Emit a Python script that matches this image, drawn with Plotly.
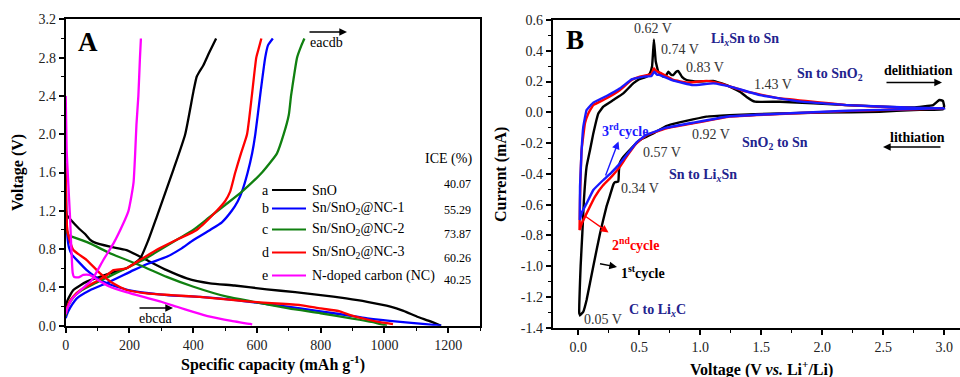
import plotly.graph_objects as go

W, H = 960, 377
SERIF = "'Liberation Serif', 'Times New Roman', Times, 'DejaVu Serif', serif"

# ---------------- Panel A: galvanostatic charge/discharge (1st cycle) ----------------
# a: SnO
a_dis_cap = [0, 3, 20, 40, 60, 76, 90, 139, 191, 254, 317, 380, 453, 530, 631, 720, 800, 880, 946, 1019, 1060, 1103, 1140, 1178]
a_dis_v = [1.22, 1.16, 1.09, 1.02, 0.96, 0.90, 0.87, 0.825, 0.79, 0.686, 0.58, 0.495, 0.443, 0.42, 0.38, 0.35, 0.32, 0.285, 0.25, 0.20, 0.155, 0.094, 0.05, 0.0]
a_chg_cap = [0, 5, 24, 66, 139, 191, 233, 260, 286, 338, 375, 401, 411, 419, 432, 450, 472]
a_chg_v = [0.20, 0.26, 0.373, 0.46, 0.547, 0.60, 0.70, 0.90, 1.14, 1.63, 2.0, 2.45, 2.6, 2.65, 2.72, 2.85, 3.0]

# b: Sn/SnO2@NC-1
b_dis_cap = [0, 2, 5, 10, 20, 35, 66, 108, 160, 223, 317, 422, 527, 631, 736, 841, 946, 1050, 1120, 1178]
b_dis_v = [1.55, 1.2, 0.95, 0.82, 0.74, 0.686, 0.58, 0.477, 0.407, 0.355, 0.32, 0.30, 0.27, 0.226, 0.18, 0.13, 0.077, 0.04, 0.02, 0.0]
b_chg_cap = [0, 3, 8, 20, 35, 76, 139, 213, 260, 317, 360, 401, 453, 490, 521, 540, 553, 571, 585, 595, 610, 626, 635, 650]
b_chg_v = [0.08, 0.11, 0.15, 0.22, 0.285, 0.37, 0.46, 0.58, 0.65, 0.72, 0.80, 0.895, 1.0, 1.08, 1.2, 1.3, 1.4, 1.6, 1.8, 2.0, 2.4, 2.8, 2.93, 3.0]

# c: Sn/SnO2@NC-2
c_dis_cap = [0, 3, 10, 19, 76, 139, 244, 317, 401, 506, 589, 700, 800, 900, 960, 1008]
c_dis_v = [1.25, 1.0, 0.94, 0.93, 0.86, 0.756, 0.616, 0.51, 0.407, 0.303, 0.25, 0.18, 0.13, 0.075, 0.04, 0.0]
c_chg_cap = [0, 3, 10, 25, 50, 90, 140, 190, 250, 300, 350, 400, 450, 500, 553, 616, 663, 684, 700, 707, 716, 726, 740, 749]
c_chg_v = [0.10, 0.15, 0.22, 0.30, 0.37, 0.44, 0.52, 0.60, 0.70, 0.80, 0.90, 1.0, 1.13, 1.26, 1.4, 1.6, 1.8, 2.0, 2.2, 2.4, 2.6, 2.8, 2.93, 3.0]

# d: Sn/SnO2@NC-3
d_dis_cap = [0, 2, 5, 10, 24, 66, 108, 150, 191, 254, 330, 420, 520, 620, 736, 800, 860, 893, 940, 990, 1027]
d_dis_v = [1.7, 1.2, 1.0, 0.92, 0.79, 0.686, 0.547, 0.44, 0.373, 0.338, 0.32, 0.30, 0.27, 0.24, 0.216, 0.18, 0.15, 0.11, 0.07, 0.035, 0.017]
d_chg_cap = [0, 3, 10, 25, 50, 90, 130, 150, 175, 191, 230, 290, 350, 411, 474, 500, 516, 532, 550, 569, 584, 598, 606, 614]
d_chg_v = [0.12, 0.17, 0.24, 0.31, 0.38, 0.45, 0.53, 0.58, 0.59, 0.60, 0.68, 0.80, 0.90, 1.0, 1.2, 1.3, 1.4, 1.6, 1.8, 2.0, 2.4, 2.8, 2.9, 3.0]

# e: N-doped carbon (NC)
e_dis_cap = [0, 3, 8, 13.5, 22, 26, 40, 55, 75, 86, 110, 139, 190, 244, 300, 349, 400, 453, 520, 579, 585]
e_dis_v = [2.4, 1.83, 1.49, 1.14, 0.55, 0.51, 0.505, 0.53, 0.53, 0.51, 0.46, 0.407, 0.35, 0.30, 0.25, 0.198, 0.145, 0.094, 0.05, 0.018, 0.012]
e_chg_cap = [0, 5, 20, 50, 82, 118, 150, 181, 197, 206, 213, 218, 222, 228, 233, 236]
e_chg_v = [0.12, 0.18, 0.28, 0.38, 0.477, 0.686, 0.86, 1.07, 1.2, 1.35, 1.5, 1.8, 2.1, 2.4, 2.8, 3.0]

sample_keys = ["a", "b", "c", "d", "e"]
sample_names = ["SnO", "Sn/SnO<sub>2</sub>@NC-1", "Sn/SnO<sub>2</sub>@NC-2",
                "Sn/SnO<sub>2</sub>@NC-3", "N-doped carbon (NC)"]
sample_colors = ["#000000", "#0000ff", "#108010", "#ff0000", "#ff00ff"]
ice_values = ["40.07", "55.29", "73.87", "60.26", "40.25"]

curves_a = {
    "a": (a_dis_cap, a_dis_v, a_chg_cap, a_chg_v),
    "b": (b_dis_cap, b_dis_v, b_chg_cap, b_chg_v),
    "c": (c_dis_cap, c_dis_v, c_chg_cap, c_chg_v),
    "d": (d_dis_cap, d_dis_v, d_chg_cap, d_chg_v),
    "e": (e_dis_cap, e_dis_v, e_chg_cap, e_chg_v),
}

# ---------------- Panel B: cyclic voltammetry (first three cycles) ----------------
cv1_cath_v = [3.0, 2.99, 2.75, 2.47, 2.0, 1.65, 1.24, 1.05, 0.94, 0.83, 0.72, 0.615, 0.505, 0.396, 0.36, 0.34, 0.333, 0.328, 0.30, 0.287, 0.26, 0.232, 0.178, 0.123, 0.068, 0.041, 0.025, 0.014]
cv1_cath_i = [0.04, 0.02, 0.015, 0.004, -0.002, -0.007, -0.018, -0.028, -0.046, -0.065, -0.089, -0.137, -0.18, -0.267, -0.30, -0.33, -0.38, -0.45, -0.455, -0.47, -0.54, -0.61, -0.787, -1.0, -1.22, -1.296, -1.31, -1.318]
cv1_anod_v = [0.014, 0.008, 0.019, 0.033, 0.046, 0.068, 0.096, 0.123, 0.164, 0.205, 0.287, 0.369, 0.45, 0.50, 0.56, 0.587, 0.605, 0.62, 0.635, 0.656, 0.697, 0.72, 0.738, 0.76, 0.779, 0.80, 0.82, 0.85, 0.888, 0.97, 1.107, 1.216, 1.325, 1.38, 1.448, 1.653, 2.2, 2.746, 2.91, 2.96, 2.99, 3.0]
cv1_anod_i = [-1.318, -1.306, -1.0, -0.787, -0.57, -0.353, -0.245, -0.137, -0.007, 0.037, 0.08, 0.123, 0.188, 0.215, 0.232, 0.253, 0.30, 0.474, 0.33, 0.264, 0.232, 0.24, 0.264, 0.245, 0.242, 0.262, 0.268, 0.23, 0.21, 0.20, 0.204, 0.177, 0.134, 0.10, 0.069, 0.069, 0.047, 0.032, 0.047, 0.08, 0.075, 0.04]

cv2_cath_v = [3.0, 2.75, 2.2, 1.65, 1.24, 0.94, 0.724, 0.56, 0.478, 0.396, 0.342, 0.273, 0.205, 0.137, 0.068, 0.03, 0.01]
cv2_cath_i = [0.026, 0.02, 0.008, -0.011, -0.028, -0.072, -0.104, -0.148, -0.2, -0.288, -0.353, -0.418, -0.473, -0.548, -0.657, -0.72, -0.765]
cv2_anod_v = [0.01, 0.014, 0.027, 0.055, 0.082, 0.123, 0.232, 0.342, 0.437, 0.505, 0.60, 0.62, 0.635, 0.67, 0.78, 0.89, 1.05, 1.16, 1.38, 1.65, 2.2, 2.75, 3.0]
cv2_anod_i = [-0.765, -0.57, -0.245, -0.07, -0.007, 0.047, 0.091, 0.145, 0.21, 0.232, 0.249, 0.286, 0.27, 0.258, 0.21, 0.193, 0.204, 0.188, 0.134, 0.091, 0.047, 0.026, 0.026]

cv3_cath_v = [3.0, 2.75, 2.2, 1.65, 1.24, 0.94, 0.724, 0.56, 0.478, 0.396, 0.342, 0.273, 0.205, 0.123, 0.068, 0.03, 0.012]
cv3_cath_i = [0.026, 0.022, 0.01, -0.009, -0.026, -0.068, -0.1, -0.145, -0.195, -0.278, -0.332, -0.39, -0.44, -0.505, -0.592, -0.65, -0.70]
cv3_anod_v = [0.012, 0.014, 0.027, 0.041, 0.068, 0.123, 0.232, 0.342, 0.437, 0.533, 0.60, 0.623, 0.645, 0.67, 0.78, 0.94, 1.107, 1.27, 1.49, 1.79, 2.2, 2.75, 3.0]
cv3_anod_i = [-0.70, -0.483, -0.245, -0.093, 0.015, 0.063, 0.106, 0.156, 0.214, 0.232, 0.236, 0.264, 0.245, 0.242, 0.206, 0.177, 0.188, 0.162, 0.112, 0.073, 0.047, 0.03, 0.026]

cv_cycles = [
    ("1st", "#000000", cv1_cath_v + cv1_anod_v, cv1_cath_i + cv1_anod_i),
    ("2nd", "#ff0000", cv2_cath_v + cv2_anod_v, cv2_cath_i + cv2_anod_i),
    ("3rd", "#1a1aff", cv3_cath_v + cv3_anod_v, cv3_cath_i + cv3_anod_i),
]

# tick labels
a_y_ticks = [0.0, 0.4, 0.8, 1.2, 1.6, 2.0, 2.4, 2.8, 3.2]
a_x_ticks = [0, 200, 400, 600, 800, 1000, 1200]
b_y_ticks = [0.6, 0.4, 0.2, 0.0, -0.2, -0.4, -0.6, -0.8, -1.0, -1.2, -1.4]
b_x_ticks = [0.0, 0.5, 1.0, 1.5, 2.0, 2.5, 3.0]

fig = go.Figure()

for key, color in zip(sample_keys, sample_colors):
    dc, dv, cc, cv = curves_a[key]
    for xs, ys in ((dc, dv), (cc, cv)):
        fig.add_trace(go.Scatter(x=xs, y=ys, mode="lines", xaxis="x", yaxis="y",
                                 line=dict(color=color, width=2.3, shape="spline", smoothing=0.5),
                                 showlegend=False, hoverinfo="skip"))

for name, color, xs, ys in cv_cycles:
    fig.add_trace(go.Scatter(x=xs, y=ys, mode="lines", xaxis="x2", yaxis="y2",
                             line=dict(color=color, width=2.4, shape="spline", smoothing=0.25),
                             showlegend=False, hoverinfo="skip"))

# axis geometry (pixels)
A_L, A_R, A_T, A_B = 65.7, 480.0, 19.3, 325.7
B_L, B_R, B_T, B_B = 552.7, 960.0, 20.0, 327.7

axis_common = dict(showline=True, linecolor="black", linewidth=2, ticks="outside",
                   ticklen=5, tickwidth=1.6, tickcolor="black", showgrid=False, zeroline=False,
                   tickfont=dict(family=SERIF, size=14, color="#222"), automargin=False)


def minor(dt):
    return dict(dtick=dt, ticks="outside", ticklen=3, tickwidth=1.4, tickcolor="black", showgrid=False)


fig.update_layout(
    width=W, height=H, margin=dict(l=0, r=0, t=0, b=0),
    paper_bgcolor="white", plot_bgcolor="white", showlegend=False,
    font=dict(family=SERIF, size=14, color="black"),
    xaxis=dict(domain=[A_L / W, A_R / W], range=[0, 1300], anchor="y", mirror=True,
               tickvals=a_x_ticks, ticktext=[str(t) for t in a_x_ticks], minor=minor(100), **axis_common),
    yaxis=dict(domain=[1 - A_B / H, 1 - A_T / H], range=[0, 3.2], anchor="x", mirror=True,
               tickvals=a_y_ticks, ticktext=[f"{t:.1f}" for t in a_y_ticks], minor=minor(0.2), **axis_common),
    xaxis2=dict(domain=[B_L / W, B_R / W], range=[-0.21, 3.13], anchor="y2", mirror=True,
                tickvals=b_x_ticks, ticktext=[f"{t:.1f}" for t in b_x_ticks], minor=minor(0.25), **axis_common),
    yaxis2=dict(domain=[1 - B_B / H, 1 - B_T / H], range=[-1.4, 0.6], anchor="x2", mirror=False,
                tickvals=b_y_ticks, ticktext=[f"{t:.1f}" for t in b_y_ticks],
                minor=minor(0.1), **axis_common),
)

ann = []
shapes = []


def px(x):
    return x / W


def py(y):
    return 1 - y / H


def text(x, y, s, size=14, color="black", bold=False, xanchor="center", yanchor="middle", angle=0):
    ann.append(dict(x=px(x), y=py(y), xref="paper", yref="paper", text=f"<b>{s}</b>" if bold else s,
                    showarrow=False, xanchor=xanchor, yanchor=yanchor, textangle=angle,
                    font=dict(family=SERIF, size=size, color=color)))


def arrow(x0, y0, x1, y1, color="black", width=1.4):
    ann.append(dict(x=px(x1), y=py(y1), xref="paper", yref="paper", ax=x0 - x1, ay=y0 - y1,
                    text="", showarrow=True, arrowhead=2, arrowsize=1.1, arrowwidth=width,
                    arrowcolor=color))


# axis titles
text((A_L + A_R) / 2, 363, "Specific capacity (mAh g<sup>-1</sup>)", size=16, bold=True)
text(18, 173, "Voltage (V)", size=16, bold=True, angle=-90)
text(761, 368, "Voltage (V <i>vs.</i> Li<sup>+</sup>/Li)", size=16, bold=True)
text(501, 175, "Current (mA)", size=16, bold=True, angle=-90)

# panel letters
text(88, 42, "A", size=27, bold=True)
text(575, 40, "B", size=27, bold=True)

# panel A in-plot legend with ICE values
row_y = [190, 208.5, 229.5, 252.5, 275.5]
ice_y = [184, 210.5, 234, 258, 280]
text(448, 159, "ICE (%)", size=14)
for key, name, color, ice, ry, iy in zip(sample_keys, sample_names, sample_colors, ice_values, row_y, ice_y):
    text(265, ry, key, size=14)
    shapes.append(dict(type="line", xref="paper", yref="paper", x0=px(272), x1=px(306),
                       y0=py(ry), y1=py(ry), line=dict(color=color, width=2.2)))
    text(310, ry, name, size=14, xanchor="left")
    text(473, iy, ice, size=12, xanchor="right")

# order arrows in panel A
arrow(308, 32, 347, 32)
text(326, 43, "eacdb", size=14)
arrow(138, 308, 173, 308)
text(155, 318, "ebcda", size=14)

# panel B peak labels
grey = "#333"
text(653, 28.5, "0.62 V", size=14, color=grey)
text(680, 49.5, "0.74 V", size=14, color=grey)
text(705, 67, "0.83 V", size=14, color=grey)
text(773, 85, "1.43 V", size=14, color=grey)
text(711, 135, "0.92 V", size=14, color=grey)
text(662, 152.5, "0.57 V", size=14, color=grey)
text(640, 188.5, "0.34 V", size=14, color=grey)
text(603, 319, "0.05 V", size=14, color=grey)

navy = "#23238e"
text(745, 39.5, "Li<sub><i>x</i></sub>Sn to Sn", size=14, color=navy, bold=True)
text(830, 75, "Sn to SnO<sub>2</sub>", size=14, color=navy, bold=True)
text(775, 143, "SnO<sub>2</sub> to Sn", size=14, color=navy, bold=True)
text(703, 175, "Sn to Li<sub><i>x</i></sub>Sn", size=14, color=navy, bold=True)
text(657, 310, "C to Li<sub><i>x</i></sub>C", size=14, color=navy, bold=True)

text(918, 70.5, "delithiation", size=14, bold=True)
arrow(885, 82.5, 942, 82.5)
text(917, 137.5, "lithiation", size=14, bold=True)
arrow(942, 147, 883, 147)

text(625, 130, "3<sup>rd</sup>cycle", size=14, color="#1a1aff", bold=True)
arrow(605, 177, 618.5, 141.5, color="#1a1aff")
text(635, 243.5, "2<sup>nd</sup>cycle", size=14, color="#ff0000", bold=True)
arrow(583.5, 215, 608.5, 232.5, color="#ff0000")
text(643, 271.5, "1<sup>st</sup>cycle", size=14, color="black", bold=True)
arrow(598.5, 263.5, 617, 267)

fig.update_layout(annotations=ann, shapes=shapes)
fig.write_html("out.html")
